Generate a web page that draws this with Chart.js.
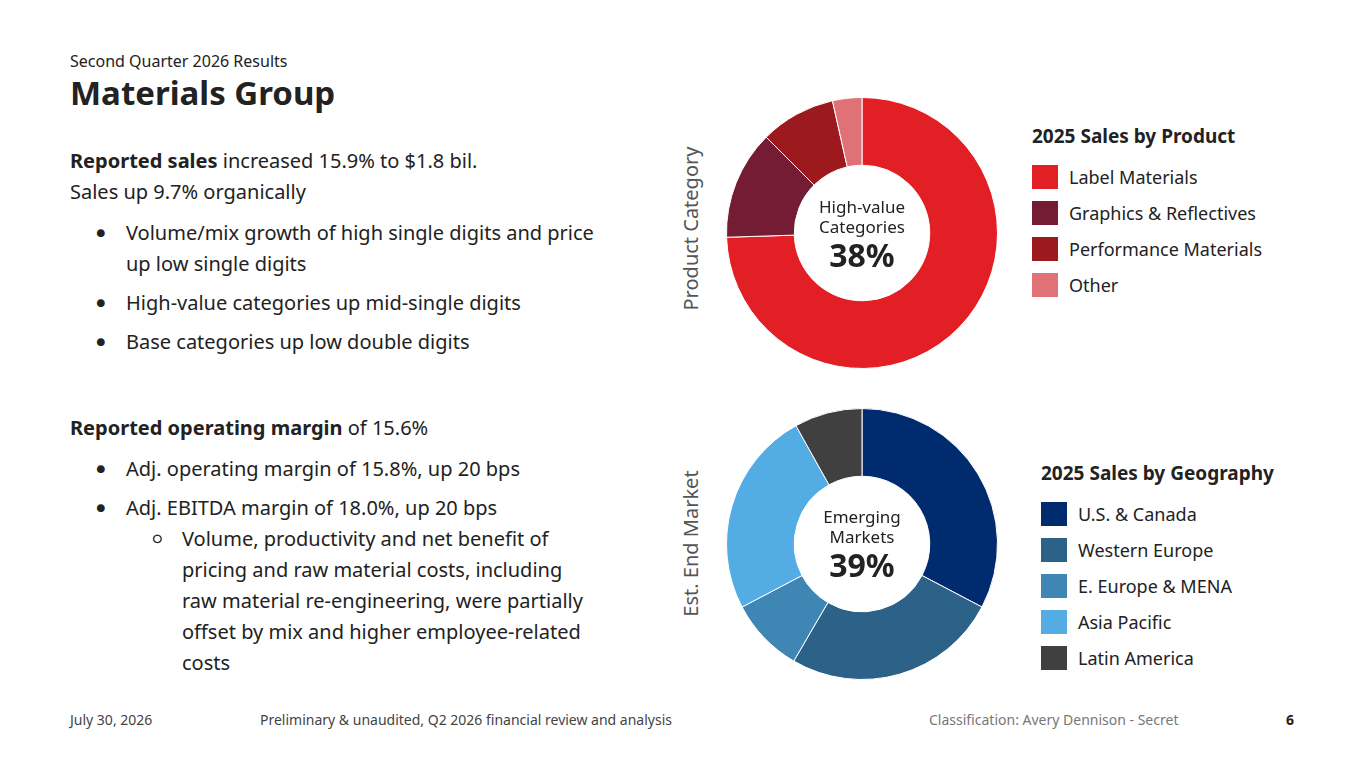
<!DOCTYPE html>
<html><head><meta charset="utf-8">
<script src="https://cdn.jsdelivr.net/npm/chart.js@4"></script>
<style>
body{margin:0;width:1365px;height:768px;background:#fff;font-family:"Noto Sans",Lato,sans-serif;color:#222;position:relative;overflow:hidden}
.abs{position:absolute}
.sub{left:70px;top:50px;font-size:16px;color:#222}
.title{left:70px;top:70px;font-size:33px;font-weight:700}
.body{left:70px;top:145px;font-size:20px;line-height:31px;width:530px}
.body b{font-weight:700}
ul{margin:10px 0 0 0;padding-left:56px}
ul li{margin-bottom:8px;list-style:none;position:relative}
ul li:before{content:"●";position:absolute;left:-30px;font-size:16px}
ul ul{padding-left:56px;margin-top:0}
ul ul li:before{content:"○"}
.rot{font-size:20px;color:#555;transform:rotate(-90deg);transform-origin:center;white-space:nowrap;width:240px;text-align:center}
.center{width:140px;text-align:center;font-size:17px;line-height:20px;color:#222}
.center b{display:block;font-size:32px;line-height:36px}
.leg h4{margin:0 0 10px 0;font-size:19px;font-weight:700}
.leg div.it{display:flex;align-items:center;height:36px;font-size:18px}
.leg span.sw{width:26px;height:24px;margin-right:11px;display:inline-block}
.foot{top:710px;font-size:14px;color:#444}
</style></head><body>
<div class="abs sub">Second Quarter 2026 Results</div>
<div class="abs title">Materials Group</div>
<div class="abs body">
<div><b>Reported sales</b> increased 15.9% to $1.8 bil.<br>Sales up 9.7% organically</div>
<ul><li>Volume/mix growth of high single digits and price up low single digits</li>
<li>High-value categories up mid-single digits</li>
<li>Base categories up low double digits</li></ul>
<div style="margin-top:55px"><b>Reported operating margin</b> of 15.6%</div>
<ul><li>Adj. operating margin of 15.8%, up 20 bps</li>
<li>Adj. EBITDA margin of 18.0%, up 20 bps
<ul style="padding-right:10px"><li>Volume, productivity and net benefit of pricing and raw material costs, including raw material re-engineering, were partially offset by mix and higher employee-related costs</li></ul></li></ul>
</div>
<div class="abs rot" style="left:570px;top:215px">Product Category</div>
<div class="abs rot" style="left:570px;top:530px">Est. End Market</div>
<div class="abs" style="left:726px;top:97px;width:272px;height:272px"><canvas id="c1"></canvas></div>
<div class="abs" style="left:726px;top:408px;width:272px;height:272px"><canvas id="c2"></canvas></div>
<div class="abs center" style="left:792px;top:197px">High-value<br>Categories<b>38%</b></div>
<div class="abs center" style="left:792px;top:507px">Emerging<br>Markets<b>39%</b></div>
<div class="abs leg" id="l1" style="left:1032px;top:123px"></div>
<div class="abs leg" id="l2" style="left:1041px;top:460px"></div>
<div class="abs foot" style="left:70px">July 30, 2026</div>
<div class="abs foot" style="left:260px">Preliminary &amp; unaudited, Q2 2026 financial review and analysis</div>
<div class="abs foot" style="left:929px;color:#777">Classification: Avery Dennison - Secret</div>
<div class="abs foot" style="left:1286px;font-weight:700;color:#222">6</div>
<script>
const productLabels=['Label Materials','Graphics & Reflectives','Performance Materials','Other'];
const productValues=[74.5,13,9,3.5];
const productColors=['#E31F26','#731C33','#9C1A1D','#E07176'];
const geoLabels=['U.S. & Canada','Western Europe','E. Europe & MENA','Asia Pacific','Latin America'];
const geoValues=[32.7,25.7,8.9,24.6,8.1];
const geoColors=['#002B6F','#2C6287','#3F86B5','#53ACE4','#404040'];
function make(id,labels,values,colors,legId,title){
  new Chart(document.getElementById(id),{type:'doughnut',
    data:{labels,datasets:[{data:values,backgroundColor:colors,borderColor:'#fff',borderWidth:1}]},
    options:{responsive:true,maintainAspectRatio:false,animation:false,cutout:'50%',
      plugins:{legend:{display:false},tooltip:{enabled:false}},layout:{padding:0}}});
  const l=document.getElementById(legId);
  l.innerHTML='<h4>'+title+'</h4>'+labels.map((t,i)=>'<div class="it"><span class="sw" style="background:'+colors[i]+'"></span>'+t.replace('&','&amp;')+'</div>').join('');
}
make('c1',productLabels,productValues,productColors,'l1','2025 Sales by Product');
make('c2',geoLabels,geoValues,geoColors,'l2','2025 Sales by Geography');
</script>
</body></html>
